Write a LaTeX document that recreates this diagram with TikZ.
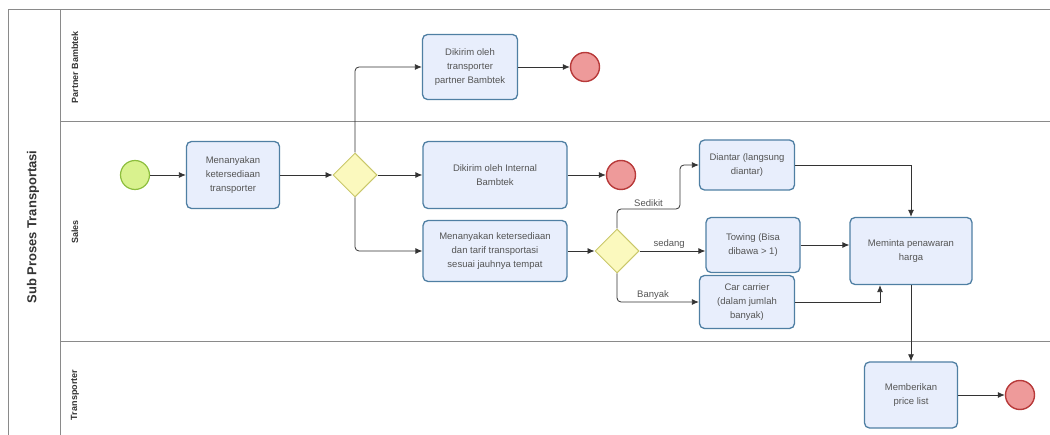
\documentclass[tikz,border=0pt]{standalone}
\usepackage{fontspec}
\setmainfont{Liberation Sans}
\usetikzlibrary{shapes.geometric,arrows.meta}
\definecolor{taskfill}{HTML}{E8EEFC}
\definecolor{taskline}{HTML}{4F7FA3}
\definecolor{gwfill}{HTML}{FBF9BE}
\definecolor{gwline}{HTML}{C9C76A}
\definecolor{endfill}{HTML}{EE9A9A}
\definecolor{endline}{HTML}{B83A3A}
\definecolor{startfill}{HTML}{D9F28E}
\definecolor{startline}{HTML}{8DBE3E}
\definecolor{laneline}{HTML}{8A8A8A}
\definecolor{txt}{HTML}{555555}
\begin{document}
\begin{tikzpicture}[x=1pt,y=-1pt,>={Latex[length=7pt,width=6pt]},
  task/.style={draw=taskline, fill=taskfill, line width=1.3pt, rounded corners=5pt, align=center,
    text=txt, font=\fontsize{9.5}{14}\selectfont, inner sep=2pt},
  gw/.style={draw=gwline, fill=gwfill, line width=1pt, diamond, minimum size=44pt, inner sep=0pt},
  ende/.style={draw=endline, fill=endfill, line width=1.4pt, circle, minimum size=29pt, inner sep=0pt},
  starte/.style={draw=startline, fill=startfill, line width=1.2pt, circle, minimum size=29pt, inner sep=0pt},
  lbl/.style={font=\fontsize{9.5}{11}\selectfont, text=txt, inner sep=2pt},
  lane/.style={rotate=90, font=\bfseries\fontsize{9}{11}\selectfont, text=black!80},
  flow/.style={draw, thick, ->, black!80}]
\useasboundingbox (0,0) rectangle (1050,435);

% pool and lanes
\path[draw=laneline, line width=1pt] (8,435) -- (8,10) -- (1050,10);
\path[draw=laneline, line width=1pt] (60,10) -- (60,435);
\path[draw=laneline, line width=1pt] (60,122) -- (1050,122);
\path[draw=laneline, line width=1pt] (60,342) -- (1050,342);
\node[rotate=90, font=\bfseries\fontsize{13}{15}\selectfont, text=black!80] (pool) at (33,227) {Sub Proses Transportasi};
\node[lane] (ln1) at (75,67) {Partner Bambtek};
\node[lane] (ln2) at (75,232) {Sales};
\node[lane] (ln3) at (75,395) {Transporter};

% events and gateways
\node[starte] (s) at (135,175) {};
\node[gw] (g1) at (355,175) {};
\node[gw] (g2) at (617,251) {};
\node[ende] (e1) at (585,67) {};
\node[ende] (e2) at (621,175) {};
\node[ende] (e3) at (1020,395) {};

% tasks
\node[task, minimum width=93pt, minimum height=67pt] (t1) at (233,175) {Menanyakan\\ketersediaan\\transporter};
\node[task, minimum width=95pt, minimum height=65pt] (t2) at (470,67) {Dikirim oleh\\transporter\\partner Bambtek};
\node[task, minimum width=144pt, minimum height=67pt] (t3) at (495,175) {Dikirim oleh Internal\\Bambtek};
\node[task, minimum width=144pt, minimum height=61pt] (t4) at (495,251) {Menanyakan ketersediaan\\dan tarif transportasi\\sesuai jauhnya tempat};
\node[task, minimum width=95pt, minimum height=50pt] (t5) at (747,165) {Diantar (langsung\\diantar)};
\node[task, minimum width=94pt, minimum height=55pt] (t6) at (753,245) {Towing (Bisa\\dibawa > 1)};
\node[task, minimum width=95pt, minimum height=53pt] (t7) at (747,302) {Car carrier\\(dalam jumlah\\banyak)};
\node[task, minimum width=122pt, minimum height=67pt] (t8) at (911,251) {Meminta penawaran\\harga};
\node[task, minimum width=93pt, minimum height=66pt] (t9) at (911,395) {Memberikan\\price list};

% flows
\path[flow] (s) -- (t1);
\path[flow] (t1) -- (g1);
\path[flow, rounded corners=4pt] (g1.north) |- (t2);
\path[flow] (g1) -- (t3);
\path[flow, rounded corners=4pt] (g1.south) |- (t4);
\path[flow] (t2) -- (e1);
\path[flow] (t3) -- (e2);
\path[flow] (t4) -- (g2);
\path[flow, rounded corners=4pt] (g2.north) |- node[lbl, above, pos=0.75] {Sedikit} (680,209) |- (t5);
\path[flow] (g2) -- node[lbl, above, pos=0.45] {sedang} (g2 -| t6.west);
\path[flow, rounded corners=4pt] (g2.south) |- node[lbl, above, pos=0.72] {Banyak} (t7);
\path[flow] (t5) -| (t8);
\path[flow] (t6.east) -- (t6.east -| t8.west);
\path[flow] (t7) -| ([xshift=-31pt]t8.south);
\path[flow] (t8) -- (t9);
\path[flow] (t9) -- (e3);
\end{tikzpicture}
\end{document}
